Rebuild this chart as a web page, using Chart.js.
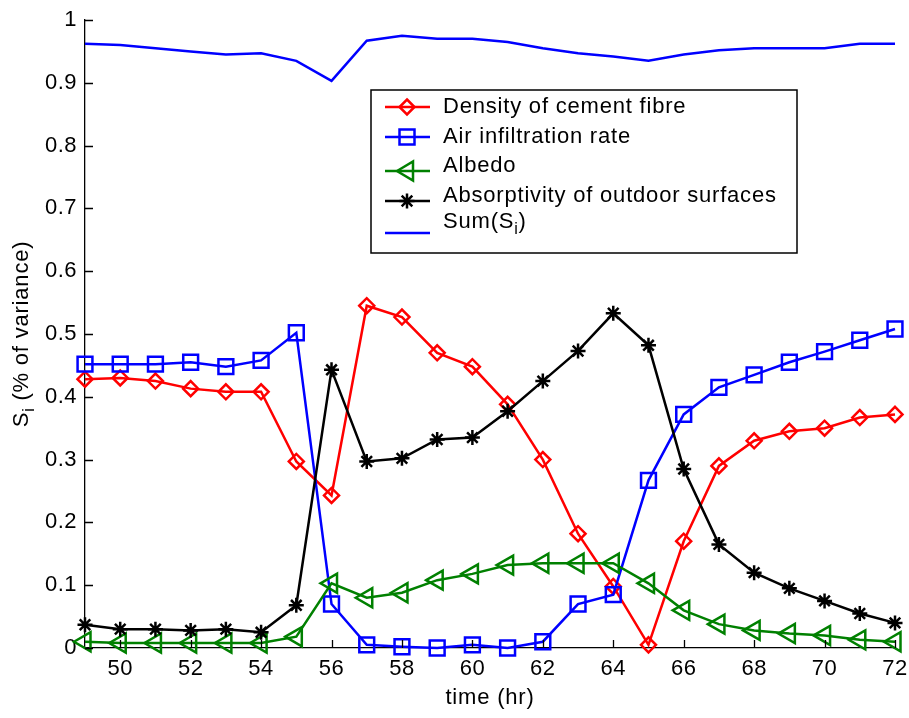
<!DOCTYPE html>
<html>
<head>
<meta charset="utf-8">
<script src="https://cdn.jsdelivr.net/npm/chart.js@4/dist/chart.umd.min.js"></script>
<style>
   html, body { margin: 0; padding: 0; background: #fff; }
   #wrap { width: 909px; height: 718px; }
</style>
</head>
<body>
<div id="wrap"><canvas id="siChart" width="909" height="718"></canvas></div>
<script>
const hours = [49, 50, 51, 52, 53, 54, 55, 56, 57, 58, 59, 60, 61, 62, 63, 64, 65, 66, 67, 68, 69, 70, 71, 72];
const density = [0.428, 0.430, 0.425, 0.413, 0.408, 0.408, 0.297, 0.243, 0.545, 0.527, 0.470, 0.448, 0.388, 0.300, 0.182, 0.098, 0.005, 0.170, 0.290, 0.330, 0.345, 0.350, 0.367, 0.372];
const airRate = [0.452, 0.452, 0.452, 0.455, 0.448, 0.458, 0.502, 0.070, 0.005, 0.002, 0.000, 0.005, 0.000, 0.010, 0.070, 0.085, 0.267, 0.372, 0.415, 0.435, 0.455, 0.472, 0.490, 0.508];
const albedo = [0.010, 0.008, 0.008, 0.008, 0.008, 0.008, 0.018, 0.103, 0.080, 0.088, 0.108, 0.118, 0.132, 0.135, 0.135, 0.135, 0.103, 0.060, 0.038, 0.028, 0.023, 0.020, 0.013, 0.010];
const absorptivity = [0.037, 0.030, 0.030, 0.028, 0.030, 0.025, 0.068, 0.443, 0.297, 0.302, 0.332, 0.335, 0.377, 0.425, 0.473, 0.533, 0.482, 0.285, 0.165, 0.120, 0.095, 0.075, 0.055, 0.040];
const sumSi = [0.962, 0.960, 0.955, 0.950, 0.945, 0.947, 0.935, 0.903, 0.967, 0.975, 0.970, 0.970, 0.965, 0.955, 0.947, 0.942, 0.935, 0.945, 0.952, 0.955, 0.955, 0.955, 0.962, 0.962];

const xTicks = [50, 52, 54, 56, 58, 60, 62, 64, 66, 68, 70, 72];
const yTicks = [0, 0.1, 0.2, 0.3, 0.4, 0.5, 0.6, 0.7, 0.8, 0.9, 1];
const legendLabels = ['Density of cement fibre', 'Air infiltration rate', 'Albedo', 'Absorptivity of outdoor surfaces', 'Sum(S', ')'];

const FONT = '"Liberation Sans", Arial, Helvetica, sans-serif';
const clear = 'rgba(0,0,0,0)';
const LW = 2.5;

function toPoints(arr) {
   return hours.map((h, i) => ({ x: h, y: arr[i] }));
}

// matlab style: ticks inside, legend box, axis titles with subscript
const matlabBits = {
   id: 'matlabBits',
   beforeDraw(chart) {
      chart.ctx.letterSpacing = '0.5px';
   },
   afterDatasetsDraw(chart) {
      const ctx = chart.ctx;
      const xs = chart.scales.x, ys = chart.scales.y;
      const area = chart.chartArea;
      ctx.save();
      ctx.strokeStyle = '#000';
      ctx.lineWidth = 1.3;
      ctx.beginPath();
      xTicks.forEach(t => {
         const px = Math.round(xs.getPixelForValue(t)) + 0.5;
         ctx.moveTo(px, area.bottom);
         ctx.lineTo(px, area.bottom - 8);
      });
      yTicks.forEach(t => {
         const py = Math.round(ys.getPixelForValue(t)) + 0.5;
         ctx.moveTo(area.left, py);
         ctx.lineTo(area.left + 8, py);
      });
      ctx.stroke();

      // legend
      const bx = 371, by = 90, bw = 426, bh = 163;
      ctx.fillStyle = '#fff';
      ctx.fillRect(bx, by, bw, bh);
      ctx.lineWidth = 1.5;
      ctx.strokeStyle = '#000';
      ctx.strokeRect(bx, by, bw, bh);

      const lx0 = 385, lx1 = 430, mx = 407;
      const rows = [
         { color: '#ff0000', ly: 107, ty: 107, mark: 'diamond' },
         { color: '#0000ff', ly: 137, ty: 137, mark: 'square' },
         { color: '#008000', ly: 171, ty: 166, mark: 'triangle' },
         { color: '#000000', ly: 201, ty: 196, mark: 'star' },
         { color: '#0000ff', ly: 233, ty: 222, mark: null }
      ];
      rows.forEach(r => {
         ctx.strokeStyle = r.color;
         ctx.lineWidth = LW;
         ctx.beginPath();
         ctx.moveTo(lx0, r.ly);
         ctx.lineTo(lx1, r.ly);
         ctx.stroke();
         ctx.beginPath();
         if (r.mark == 'diamond') {
            ctx.moveTo(mx, r.ly - 7.5); ctx.lineTo(mx + 7.5, r.ly);
            ctx.lineTo(mx, r.ly + 7.5); ctx.lineTo(mx - 7.5, r.ly); ctx.closePath();
         } else if (r.mark == 'square') {
            ctx.rect(mx - 7.5, r.ly - 7.5, 15, 15);
         } else if (r.mark == 'triangle') {
            ctx.moveTo(mx - 10, r.ly); ctx.lineTo(mx + 6, r.ly - 9.5);
            ctx.lineTo(mx + 6, r.ly + 9.5); ctx.closePath();
         } else if (r.mark == 'star') {
            for (let k = 0; k < 4; k++) {
               const a = k * Math.PI / 4;
               ctx.moveTo(mx - 7.5 * Math.cos(a), r.ly - 7.5 * Math.sin(a));
               ctx.lineTo(mx + 7.5 * Math.cos(a), r.ly + 7.5 * Math.sin(a));
            }
         }
         ctx.stroke();
      });

      ctx.fillStyle = '#000';
      ctx.letterSpacing = '0.8px';
      ctx.font = '22px ' + FONT;
      ctx.textAlign = 'left';
      ctx.textBaseline = 'middle';
      for (let i = 0; i < 4; i++) ctx.fillText(legendLabels[i], 443, rows[i].ty);
      ctx.fillText(legendLabels[4], 443, rows[4].ty);
      let w = ctx.measureText(legendLabels[4]).width;
      ctx.font = '16px ' + FONT;
      ctx.fillText('i', 443 + w, rows[4].ty + 8);
      const wi = ctx.measureText('i').width;
      ctx.font = '22px ' + FONT;
      ctx.fillText(legendLabels[5], 443 + w + wi, rows[4].ty);

      // x title
      ctx.textAlign = 'center';
      ctx.fillText('time (hr)', (area.left + area.right) / 2, 698);

      // y title, rotated
      ctx.translate(22, 334);
      ctx.rotate(-Math.PI / 2);
      ctx.textAlign = 'left';
      ctx.font = '22px ' + FONT;
      const wS = ctx.measureText('S').width;
      ctx.font = '16px ' + FONT;
      const wSub = ctx.measureText('i').width;
      ctx.font = '22px ' + FONT;
      const wRest = ctx.measureText(' (% of variance)').width;
      const start = -(wS + wSub + wRest) / 2;
      ctx.fillText('S', start, 0);
      ctx.font = '16px ' + FONT;
      ctx.fillText('i', start + wS, 8);
      ctx.font = '22px ' + FONT;
      ctx.fillText(' (% of variance)', start + wS + wSub, 0);
      ctx.restore();
   }
};

function markerSet(label, arr, color, style, radius, rotation, order) {
   return {
      label: label,
      data: toPoints(arr),
      borderColor: color,
      borderWidth: LW,
      pointStyle: style,
      pointRadius: radius,
      pointRotation: rotation,
      pointBorderColor: color,
      pointBackgroundColor: clear,
      pointBorderWidth: LW,
      tension: 0,
      fill: false,
      clip: false,
      order: order
   };
}

const ctx = document.getElementById('siChart').getContext('2d');
new Chart(ctx, {
   type: 'line',
   data: {
      datasets: [
         markerSet('Density of cement fibre', density, '#ff0000', 'rectRot', 7.5, 0, 5),
         markerSet('Air infiltration rate', airRate, '#0000ff', 'rect', 10.5, 0, 4),
         markerSet('Albedo', albedo, '#008000', 'triangle', 11, -90, 3),
         markerSet('Absorptivity of outdoor surfaces', absorptivity, '#000000', 'star', 7.5, 0, 2),
         {
            label: 'Sum(Si)',
            data: toPoints(sumSi),
            borderColor: '#0000ff',
            borderWidth: LW,
            pointRadius: 0,
            tension: 0,
            fill: false,
            clip: false,
            order: 1
         }
      ]
   },
   options: {
      responsive: false,
      animation: false,
      events: [],
      layout: { padding: { top: 20, right: 14, left: 0, bottom: 0 } },
      plugins: {
         legend: { display: false },
         tooltip: { enabled: false },
         title: { display: false }
      },
      scales: {
         x: {
            type: 'linear',
            min: 49,
            max: 72,
            afterBuildTicks: s => { s.ticks = xTicks.map(v => ({ value: v })); },
            afterFit: s => { s.height = 70; },
            grid: { display: false },
            border: { display: true, color: '#000', width: 1.3 },
            ticks: {
               color: '#000',
               font: { family: FONT, size: 22 },
               padding: 0,
               autoSkip: false,
               maxRotation: 0,
               callback: v => String(v)
            }
         },
         y: {
            min: 0,
            max: 1,
            afterBuildTicks: s => { s.ticks = yTicks.map(v => ({ value: v })); },
            afterFit: s => { s.width = 85; },
            grid: { display: false },
            border: { display: true, color: '#000', width: 1.3 },
            ticks: {
               color: '#000',
               font: { family: FONT, size: 22 },
               padding: 0,
               callback: v => (Math.round(v * 10) / 10).toString()
            }
         }
      }
   },
   plugins: [matlabBits]
});
</script>
</body>
</html>
